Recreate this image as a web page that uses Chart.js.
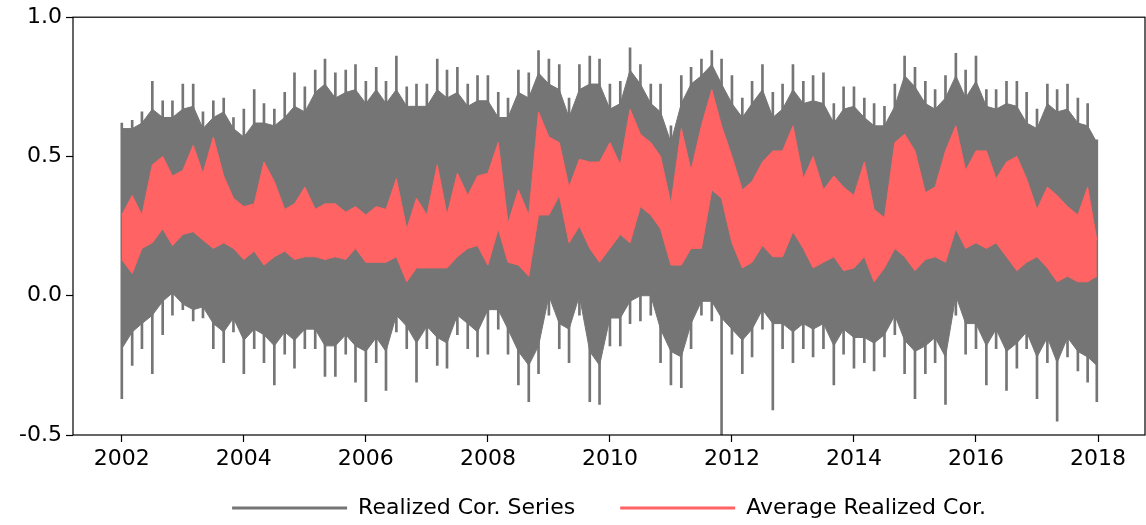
<!DOCTYPE html>
<html>
<head>
<meta charset="utf-8">
<script src="https://cdn.jsdelivr.net/npm/chart.js@4.4.1/dist/chart.umd.min.js"></script>
<style>
  html, body { margin: 0; padding: 0; background: #fff; }
  #wrap { width: 1146px; height: 525px; }
</style>
</head>
<body>
<div id="wrap"><canvas id="corr" width="1146" height="525"></canvas></div>
<script>
// sample dates (every two months)
const years = [
  2002.00, 2002.17, 2002.33, 2002.50, 2002.67, 2002.83,
  2003.00, 2003.17, 2003.33, 2003.50, 2003.67, 2003.83,
  2004.00, 2004.17, 2004.33, 2004.50, 2004.67, 2004.83,
  2005.00, 2005.17, 2005.33, 2005.50, 2005.67, 2005.83,
  2006.00, 2006.17, 2006.33, 2006.50, 2006.67, 2006.83,
  2007.00, 2007.17, 2007.33, 2007.50, 2007.67, 2007.83,
  2008.00, 2008.17, 2008.33, 2008.50, 2008.67, 2008.83,
  2009.00, 2009.17, 2009.33, 2009.50, 2009.67, 2009.83,
  2010.00, 2010.17, 2010.33, 2010.50, 2010.67, 2010.83,
  2011.00, 2011.17, 2011.33, 2011.50, 2011.67, 2011.83,
  2012.00, 2012.17, 2012.33, 2012.50, 2012.67, 2012.83,
  2013.00, 2013.17, 2013.33, 2013.50, 2013.67, 2013.83,
  2014.00, 2014.17, 2014.33, 2014.50, 2014.67, 2014.83,
  2015.00, 2015.17, 2015.33, 2015.50, 2015.67, 2015.83,
  2016.00, 2016.17, 2016.33, 2016.50, 2016.67, 2016.83,
  2017.00, 2017.17, 2017.33, 2017.50, 2017.67, 2017.83,
  2017.98
];

// realized correlation series: highest / lowest spikes in each window
const greyHigh = [
  0.62, 0.63, 0.66, 0.77, 0.70, 0.70,
  0.76, 0.76, 0.66, 0.70, 0.71, 0.64,
  0.67, 0.74, 0.69, 0.67, 0.73, 0.80,
  0.75, 0.81, 0.85, 0.80, 0.81, 0.83,
  0.77, 0.82, 0.77, 0.86, 0.75, 0.76,
  0.76, 0.85, 0.81, 0.82, 0.76, 0.79,
  0.79, 0.73, 0.71, 0.81, 0.80, 0.88,
  0.85, 0.83, 0.71, 0.83, 0.86, 0.85,
  0.76, 0.77, 0.89, 0.83, 0.76, 0.76,
  0.61, 0.79, 0.82, 0.85, 0.88, 0.85,
  0.79, 0.71, 0.77, 0.83, 0.73, 0.76,
  0.83, 0.77, 0.79, 0.80, 0.69, 0.75,
  0.75, 0.71, 0.69, 0.68, 0.76, 0.86,
  0.82, 0.77, 0.74, 0.79, 0.87, 0.81,
  0.86, 0.74, 0.74, 0.77, 0.77, 0.73,
  0.67, 0.76, 0.74, 0.76, 0.71, 0.69,
  0.56
];
const greyLow = [
  -0.37, -0.25, -0.19, -0.28, -0.14, -0.07,
  -0.05, -0.09, -0.08, -0.19, -0.24, -0.13,
  -0.28, -0.19, -0.24, -0.32, -0.21, -0.26,
  -0.19, -0.19, -0.29, -0.29, -0.21, -0.31,
  -0.38, -0.24, -0.34, -0.13, -0.19, -0.31,
  -0.19, -0.25, -0.26, -0.14, -0.19, -0.22,
  -0.21, -0.12, -0.21, -0.32, -0.38, -0.28,
  -0.07, -0.19, -0.24, -0.07, -0.38, -0.39,
  -0.18, -0.18, -0.10, -0.09, -0.07, -0.24,
  -0.32, -0.33, -0.19, -0.07, -0.09, -0.50,
  -0.21, -0.28, -0.22, -0.12, -0.41, -0.19,
  -0.24, -0.19, -0.22, -0.19, -0.32, -0.21,
  -0.26, -0.24, -0.27, -0.22, -0.14, -0.28,
  -0.37, -0.28, -0.24, -0.39, -0.07, -0.21,
  -0.19, -0.32, -0.19, -0.34, -0.26, -0.19,
  -0.37, -0.24, -0.45, -0.22, -0.27, -0.31,
  -0.38
];
// where the grey lines are packed solid
const greyBandHigh = [
  0.60, 0.60, 0.62, 0.67, 0.64, 0.64,
  0.67, 0.68, 0.60, 0.64, 0.66, 0.60,
  0.57, 0.62, 0.62, 0.61, 0.64, 0.68,
  0.66, 0.73, 0.76, 0.71, 0.73, 0.74,
  0.69, 0.74, 0.69, 0.74, 0.68, 0.68,
  0.68, 0.74, 0.71, 0.73, 0.68, 0.70,
  0.70, 0.64, 0.64, 0.73, 0.71, 0.80,
  0.76, 0.74, 0.64, 0.74, 0.76, 0.76,
  0.67, 0.69, 0.81, 0.76, 0.69, 0.66,
  0.55, 0.69, 0.76, 0.79, 0.83, 0.76,
  0.69, 0.64, 0.69, 0.74, 0.64, 0.67,
  0.74, 0.69, 0.70, 0.69, 0.62, 0.67,
  0.68, 0.64, 0.61, 0.61, 0.68, 0.79,
  0.75, 0.69, 0.67, 0.71, 0.79, 0.71,
  0.77, 0.68, 0.67, 0.69, 0.68, 0.62,
  0.60, 0.69, 0.66, 0.67, 0.62, 0.61,
  0.55
];
const greyBandLow = [
  -0.19, -0.13, -0.10, -0.07, -0.02, 0.01,
  -0.03, -0.05, -0.04, -0.10, -0.13, -0.08,
  -0.16, -0.12, -0.14, -0.18, -0.13, -0.16,
  -0.12, -0.12, -0.18, -0.18, -0.14, -0.18,
  -0.20, -0.15, -0.20, -0.07, -0.11, -0.17,
  -0.11, -0.15, -0.17, -0.07, -0.10, -0.13,
  -0.05, -0.05, -0.12, -0.20, -0.25, -0.18,
  0.00, -0.10, -0.12, 0.00, -0.20, -0.25,
  -0.08, -0.08, -0.02, 0.00, 0.00, -0.12,
  -0.20, -0.22, -0.10, -0.02, -0.02, -0.08,
  -0.12, -0.16, -0.12, -0.05, -0.10, -0.10,
  -0.13, -0.10, -0.12, -0.10, -0.18, -0.12,
  -0.15, -0.15, -0.17, -0.14, -0.07, -0.16,
  -0.20, -0.18, -0.15, -0.22, 0.00, -0.10,
  -0.10, -0.18, -0.12, -0.20, -0.17, -0.13,
  -0.22, -0.15, -0.24, -0.15, -0.20, -0.22,
  -0.25
];

// average realized correlation: top / bottom in each window
const redHigh = [
  0.29, 0.36, 0.29, 0.47, 0.50, 0.43,
  0.45, 0.54, 0.44, 0.57, 0.43, 0.35,
  0.32, 0.33, 0.48, 0.41, 0.31, 0.33,
  0.39, 0.31, 0.33, 0.33, 0.30, 0.32,
  0.29, 0.32, 0.31, 0.42, 0.24, 0.35,
  0.29, 0.47, 0.29, 0.44, 0.36, 0.43,
  0.44, 0.55, 0.26, 0.38, 0.29, 0.66,
  0.57, 0.55, 0.39, 0.49, 0.48, 0.48,
  0.55, 0.47, 0.67, 0.58, 0.55, 0.50,
  0.33, 0.60, 0.45, 0.61, 0.74, 0.61,
  0.50, 0.38, 0.41, 0.48, 0.52, 0.52,
  0.61, 0.42, 0.50, 0.38, 0.43, 0.39,
  0.36, 0.48, 0.31, 0.28, 0.55, 0.58,
  0.52, 0.37, 0.39, 0.52, 0.61, 0.45,
  0.52, 0.52, 0.42, 0.48, 0.50, 0.42,
  0.31, 0.39, 0.36, 0.32, 0.29, 0.39,
  0.20
];
const redLow = [
  0.13, 0.08, 0.17, 0.19, 0.24, 0.18,
  0.22, 0.23, 0.20, 0.17, 0.19, 0.17,
  0.13, 0.16, 0.11, 0.14, 0.16, 0.13,
  0.14, 0.14, 0.13, 0.14, 0.13, 0.17,
  0.12, 0.12, 0.12, 0.14, 0.05, 0.10,
  0.10, 0.10, 0.10, 0.14, 0.17, 0.18,
  0.11, 0.24, 0.12, 0.11, 0.07, 0.29,
  0.29, 0.36, 0.19, 0.25, 0.17, 0.12,
  0.17, 0.22, 0.19, 0.32, 0.29, 0.24,
  0.11, 0.11, 0.17, 0.17, 0.38, 0.35,
  0.19, 0.10, 0.12, 0.18, 0.14, 0.14,
  0.23, 0.17, 0.10, 0.12, 0.14, 0.09,
  0.10, 0.14, 0.05, 0.10, 0.17, 0.14,
  0.09, 0.13, 0.14, 0.12, 0.24, 0.17,
  0.19, 0.17, 0.19, 0.14, 0.09, 0.12,
  0.14, 0.10, 0.05, 0.07, 0.05, 0.05,
  0.07
];

const xTicks = [2002, 2004, 2006, 2008, 2010, 2012, 2014, 2016, 2018];
const yTicks = [-0.5, 0.0, 0.5, 1.0];
const seriesNames = ["Realized Cor. Series", "Average Realized Cor."];

const GREY = "#757575";
const RED = "#ff6363";
const FONT = "'DejaVu Sans', sans-serif";

const pts = (arr) => arr.map((v, i) => ({ x: years[i], y: v }));

// black box round the plot (matplotlib spines); also let the x labels
// run below the thin x-axis box so they are not clipped
const frame = {
  id: "frame",
  afterLayout(chart) {
    chart.scales.x.bottom = chart.height;
  },
  afterDraw(chart) {
    const { ctx, chartArea: a } = chart;
    ctx.save();
    ctx.strokeStyle = "#000";
    ctx.lineWidth = 1.2;
    ctx.strokeRect(a.left, a.top, a.right - a.left, a.bottom - a.top);
    ctx.restore();
  },
};

const tickGrid = {
  display: true, offset: false, drawOnChartArea: false, drawTicks: true,
  tickLength: 7, tickColor: "#000", tickWidth: 1.2,
};

new Chart(document.getElementById("corr"), {
  type: "line",
  data: {
    datasets: [
      { // 0
        label: seriesNames[1], data: pts(redLow), order: 0,
        borderColor: RED, borderWidth: 1, pointRadius: 0, fill: false,
      },
      { // 1
        label: seriesNames[1], data: pts(redHigh), order: 0,
        borderColor: RED, backgroundColor: RED, borderWidth: 1, pointRadius: 0, fill: 0,
      },
      { // 2
        label: seriesNames[0], data: pts(greyBandLow), order: 1,
        borderColor: GREY, borderWidth: 1, pointRadius: 0, fill: false,
      },
      { // 3
        label: seriesNames[0], data: pts(greyBandHigh), order: 1,
        borderColor: GREY, backgroundColor: GREY, borderWidth: 1, pointRadius: 0, fill: 2,
      },
      { // 4 thin spikes of the grey series
        type: "bar", label: seriesNames[0], order: 2,
        data: years.map((t, i) => ({ x: t, y: [greyLow[i], greyHigh[i]] })),
        backgroundColor: GREY, borderWidth: 0, barThickness: 2,
      },
    ],
  },
  options: {
    responsive: false,
    animation: false,
    devicePixelRatio: 1,
    layout: { padding: { top: 14, right: 1, left: 0, bottom: -4 } },
    plugins: {
      tooltip: { enabled: false },
      legend: {
        position: "bottom",
        fullSize: false,
        labels: {
          boxWidth: 115,
          boxHeight: 3,
          padding: 45,
          color: "#000",
          font: { family: FONT, size: 22 },
          generateLabels: () => [
            { text: seriesNames[0], fillStyle: GREY, strokeStyle: GREY, lineWidth: 0, datasetIndex: 3 },
            { text: seriesNames[1], fillStyle: RED, strokeStyle: RED, lineWidth: 0, datasetIndex: 1 },
          ],
        },
      },
    },
    scales: {
      x: {
        type: "linear",
        min: 2001.2,
        max: 2018.77,
        offset: false,
        afterFit: (s) => { s.height = 17; },
        afterBuildTicks: (s) => { s.ticks = xTicks.map((v) => ({ value: v })); },
        ticks: {
          color: "#000",
          font: { family: FONT, size: 22 },
          padding: 4,
          maxRotation: 0,
          autoSkip: false,
          callback: (v) => String(v),
        },
        grid: tickGrid,
        border: { display: false },
      },
      y: {
        type: "linear",
        min: -0.5,
        max: 1.0,
        afterFit: (s) => { s.width = 73; },
        afterBuildTicks: (s) => { s.ticks = yTicks.map((v) => ({ value: v })); },
        ticks: {
          color: "#000",
          font: { family: FONT, size: 22 },
          padding: 4,
          callback: (v) => v.toFixed(1),
        },
        grid: tickGrid,
        border: { display: false },
      },
    },
  },
  plugins: [frame],
});
</script>
</body>
</html>
